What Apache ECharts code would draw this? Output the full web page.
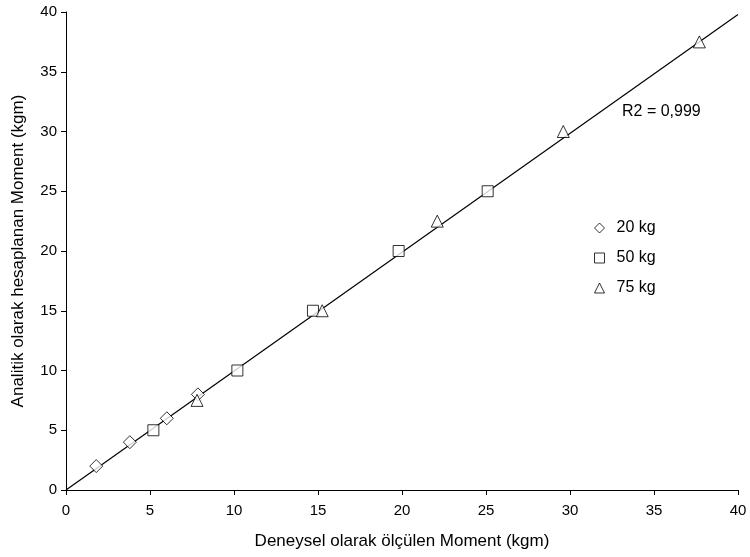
<!DOCTYPE html>
<html>
<head>
<meta charset="utf-8">
<script src="https://cdn.jsdelivr.net/npm/echarts@6/dist/echarts.min.js"></script>
<style>
  html, body { margin: 0; padding: 0; background: #fff; }
  #chart { width: 750px; height: 557px; }
</style>
</head>
<body>
<div id="chart"></div>
<script>
// deneysel (x) / analitik (y) moment values, kgm
const kg20X = [1.8, 3.8, 6.0, 7.85]
const kg20Y = [2, 4, 6, 8]
const kg50X = [5.2, 10.2, 14.7, 19.8, 25.1]
const kg50Y = [5, 10, 15, 20, 25]
const kg75X = [7.8, 15.25, 22.1, 29.6, 37.7]
const kg75Y = [7.5, 15, 22.5, 30, 37.5]
const fitX = [0, 40]
const fitY = [0, 39.8]
const tickLabels = ['0', '5', '10', '15', '20', '25', '30', '35', '40']

const zip = (xs, ys) => xs.map((x, i) => [x, ys[i]])

const chart = echarts.init(document.getElementById('chart'))
const font = 'Liberation Sans, Arial, sans-serif'

const axisCommon = {
  type: 'value',
  min: 0,
  max: 40,
  interval: 5,
  nameLocation: 'middle',
  nameTextStyle: { fontFamily: font, fontSize: 17, color: '#000' },
  axisLine: { show: true, lineStyle: { color: '#000', width: 1 } },
  axisTick: { show: true, inside: false, length: 5, lineStyle: { color: '#000' } },
  axisLabel: {
    fontFamily: font, fontSize: 15, color: '#000',
    formatter: v => tickLabels[Math.round(v / 5)]
  },
  splitLine: { show: false }
}

const markerStyle = { color: '#fff', borderColor: '#000', borderWidth: 1 }

chart.setOption({
  animation: false,
  backgroundColor: '#fff',
  grid: { left: 66, right: 12, top: 12, bottom: 67 },
  xAxis: Object.assign({}, axisCommon, {
    name: 'Deneysel olarak ölçülen Moment (kgm)',
    nameGap: 43,
    axisLabel: Object.assign({}, axisCommon.axisLabel, { margin: 13 })
  }),
  yAxis: Object.assign({}, axisCommon, {
    name: 'Analitik olarak hesaplanan Moment (kgm)',
    nameGap: 39,
    axisLabel: Object.assign({}, axisCommon.axisLabel, { margin: 9 })
  }),
  legend: {
    orient: 'vertical',
    left: 589,
    top: 215,
    itemGap: 14,
    itemWidth: 10,
    itemHeight: 10,
    itemStyle: { borderWidth: 1 },
    textStyle: { fontFamily: font, fontSize: 16, color: '#000', padding: [0, 0, 0, 7] },
    data: ['20 kg', '50 kg', '75 kg']
  },
  graphic: [{
    type: 'text',
    left: 622,
    top: 104,
    style: { text: 'R2 = 0,999', font: '16px ' + font, fill: '#000' }
  }],
  series: [
    {
      name: 'fit',
      type: 'line',
      data: zip(fitX, fitY),
      symbol: 'none',
      lineStyle: { color: '#000', width: 1.2 },
      z: 1,
      silent: true
    },
    {
      name: '20 kg',
      type: 'scatter',
      symbol: 'diamond',
      symbolSize: 13,
      data: zip(kg20X, kg20Y),
      itemStyle: markerStyle,
      z: 3
    },
    {
      name: '50 kg',
      type: 'scatter',
      symbol: 'rect',
      symbolSize: 11,
      data: zip(kg50X, kg50Y),
      itemStyle: markerStyle,
      z: 3
    },
    {
      name: '75 kg',
      type: 'scatter',
      symbol: 'triangle',
      symbolSize: 12,
      data: zip(kg75X, kg75Y),
      itemStyle: markerStyle,
      z: 3
    }
  ]
})
</script>
</body>
</html>
